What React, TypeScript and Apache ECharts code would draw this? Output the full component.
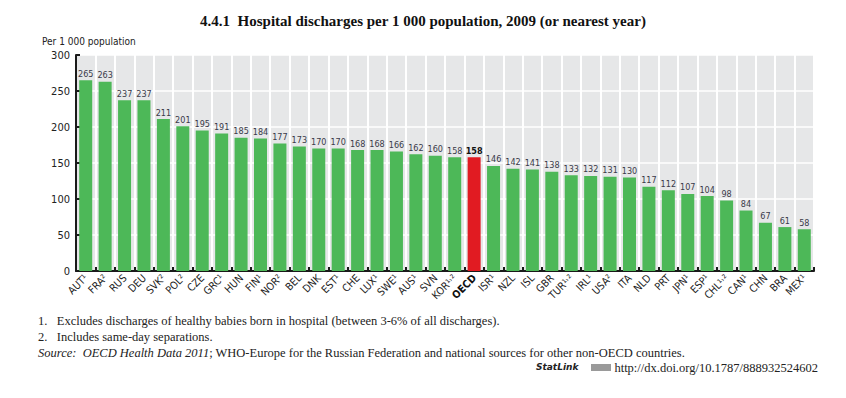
import React, { useEffect, useRef } from "react";
import * as echarts from "echarts";

const countries = ["AUT","FRA","RUS","DEU","SVK","POL","CZE","GRC","HUN","FIN","NOR","BEL","DNK","EST","CHE","LUX","SWE","AUS","SVN","KOR","OECD","ISR","NZL","ISL","GBR","TUR","IRL","USA","ITA","NLD","PRT","JPN","ESP","CHL","CAN","CHN","BRA","MEX"];
const notes = ["1","2","","","2","2","","1","","1","2","","","1","","1","1","1","","1,2","","1","","","","1,2","1","2","","","","1","1","1,2","1","","","1"];
const values = [265,263,237,237,211,201,195,191,185,184,177,173,170,170,168,168,166,162,160,158,158,146,142,141,138,133,132,131,130,117,112,107,104,98,84,67,61,58];
const yTicks = [0, 50, 100, 150, 200, 250, 300];

const supMap: Record<string, string> = { "1": "¹", "2": "²", "1,2": "¹˒²" };

export default function App() {
  const ref = useRef<HTMLDivElement>(null);
  useEffect(() => {
    const chart = echarts.init(ref.current!, undefined, { renderer: "svg" });
    const narrow = "'Liberation Sans Narrow', 'DejaVu Sans Condensed', sans-serif";
    const serif = "'Liberation Serif', 'DejaVu Serif', serif";
    const fs = 12.5;
    chart.setOption({
      animation: false,
      backgroundColor: "#ffffff",
      title: {
        text: "4.4.1  Hospital discharges per 1 000 population, 2009 (or nearest year)",
        left: "center",
        top: 8,
        textStyle: { fontFamily: serif, fontSize: 15, fontWeight: "bold", color: "#111" },
      },
      grid: {
        left: 76, right: 32, top: 55, bottom: 127,
        show: true, backgroundColor: "#e6e7e8", borderWidth: 0,
      },
      xAxis: {
        type: "category",
        data: countries,
        axisLine: { show: true, lineStyle: { color: "#1a1a1a", width: 2 } },
        axisTick: { show: true, inside: true, length: 4, lineStyle: { color: "#1a1a1a", width: 2 } },
        splitLine: { show: true, interval: 0, lineStyle: { color: "#ffffff", width: 2 } },
        axisLabel: {
          interval: 0,
          rotate: 45,
          margin: 5,
          fontFamily: narrow,
          fontSize: 10.5,
          color: "#222",
          formatter: (v: string) => {
            const i = countries.indexOf(v);
            const s = supMap[notes[i]] || "";
            return v === "OECD" ? `{o|${v}}` : `${v}${s}`;
          },
          rich: { o: { fontWeight: "bold", fontSize: 10.5, fontFamily: narrow, color: "#111" } },
        },
      },
      yAxis: {
        type: "value",
        min: yTicks[0],
        max: yTicks[yTicks.length - 1],
        interval: 50,
        axisLine: { show: true, lineStyle: { color: "#1a1a1a", width: 2 } },
        axisTick: { show: true, inside: true, length: 4, lineStyle: { color: "#1a1a1a", width: 2 } },
        splitLine: { show: true, lineStyle: { color: "#ffffff", width: 1.5 } },
        axisLabel: { fontFamily: narrow, fontSize: 11, color: "#222", margin: 6 },
      },
      series: [
        {
          type: "bar",
          barWidth: 13,
          data: values.map((v, i) => ({
            value: v,
            itemStyle: { color: countries[i] === "OECD" ? "#e11b22" : "#4db858" },
            label: countries[i] === "OECD" ? { fontWeight: "bold", color: "#111" } : undefined,
          })),
          label: {
            show: true,
            position: "top",
            distance: 2,
            fontFamily: narrow,
            fontSize: 9,
            color: "#3a3a48",
          },
        },
      ],
      graphic: [
        { type: "text", left: 42, top: 36, style: { text: "Per 1 000 population", fontFamily: narrow, fontSize: 10, fill: "#222" } },
        { type: "text", left: 38, top: 314, style: { text: "1.   Excludes discharges of healthy babies born in hospital (between 3-6% of all discharges).", fontFamily: serif, fontSize: fs, fill: "#222" } },
        { type: "text", left: 38, top: 330, style: { text: "2.   Includes same-day separations.", fontFamily: serif, fontSize: fs, fill: "#222" } },
        {
          type: "text", left: 38, top: 346,
          style: {
            text: "{i|Source:  OECD Health Data 2011}{n|; WHO-Europe for the Russian Federation and national sources for other non-OECD countries.}",
            rich: {
              i: { fontFamily: serif, fontSize: fs, fontStyle: "italic", fill: "#222" },
              n: { fontFamily: serif, fontSize: fs, fill: "#222" },
            },
          },
        },
        { type: "text", left: 536, top: 362, style: { text: "StatLink", fontFamily: "'DejaVu Sans', sans-serif", fontSize: 9, fontWeight: "bold", fontStyle: "italic", fill: "#222" } },
        { type: "rect", shape: { x: 591, y: 364, width: 20, height: 7 }, style: { fill: "#9a9a9a" } },
        { type: "text", right: 28, top: 361, style: { text: "http://dx.doi.org/10.1787/888932524602", fontFamily: serif, fontSize: fs, fill: "#222" } },
      ],
    });
    return () => chart.dispose();
  }, []);
  return <div ref={ref} style={{ position: "fixed", left: 0, top: 0, width: 846, height: 398 }} />;
}
